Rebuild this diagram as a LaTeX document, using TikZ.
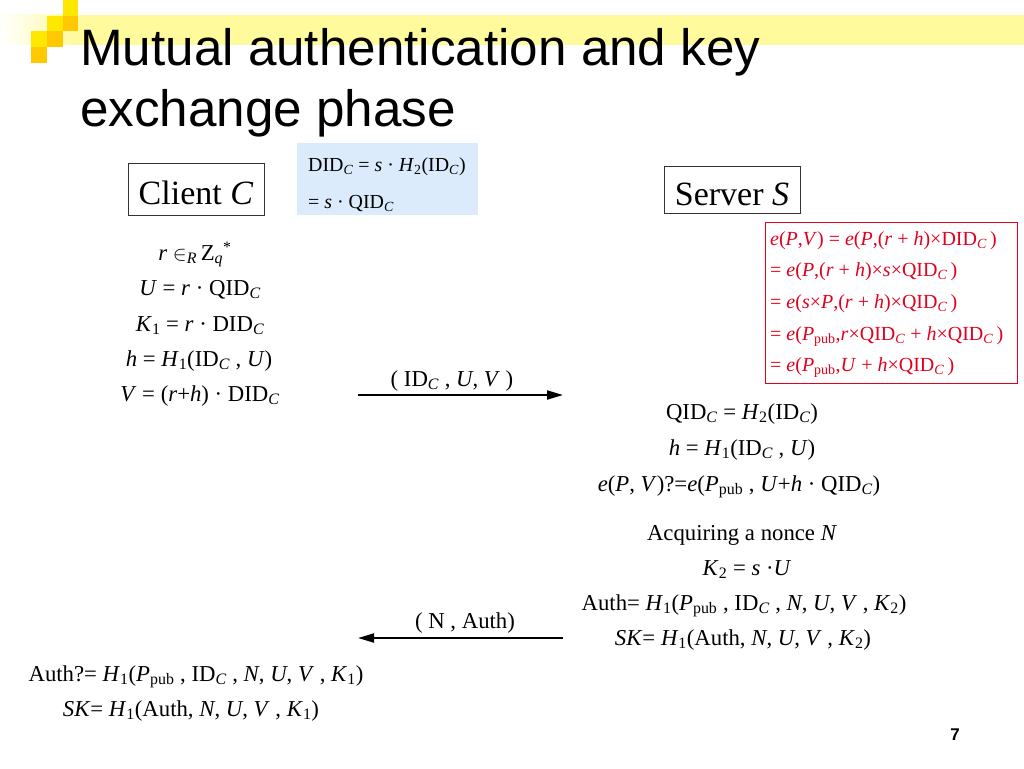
\documentclass[tikz,border=0pt]{standalone}
\usepackage{fontspec}
\setmainfont{Liberation Serif}
\newfontfamily\arialf{Liberation Sans}
\usetikzlibrary{arrows.meta}
\definecolor{bandy}{RGB}{255,250,155}
\definecolor{sqy}{RGB}{255,232,0}
\definecolor{sqo}{RGB}{255,200,0}
\definecolor{bluebox}{RGB}{220,235,252}
\definecolor{redt}{RGB}{225,0,30}
\newcommand\si[1]{\textsubscript{\itshape #1}}
\newcommand\su[1]{\textsubscript{#1}}
\newcommand\fs[1]{\fontsize{#1}{#1}\selectfont}
\tikzset{
  eq/.style={anchor=base, inner sep=0pt, font=\fs{22.75}},
  redeq/.style={anchor=base west, inner sep=0pt, font=\fs{20}, text=redt},
  blueeq/.style={anchor=base west, inner sep=0pt, font=\fs{19.9}},
  party/.style={draw=black!80, line width=0.8pt, inner sep=0pt, anchor=base, font=\fs{34}},
  msg/.style={line width=2pt, -{Triangle[length=16pt,width=9pt]}},
  ttl/.style={anchor=base west, inner sep=0pt, font=\arialf\fs{51.2}},
  sq/.style={inner sep=0pt, minimum size=15.6pt, anchor=north west},
}
\begin{document}
\begin{tikzpicture}[x=1pt,y=-1pt]
\useasboundingbox (0,0) rectangle (1024,768);
% decoration band
\fill[bandy] (78,15) rectangle (1024,45);
\shade[left color=white, right color=bandy] (0,15) rectangle (78,45);
\node[sq, fill=sqy] (s1) at (62.4,0) {};
\node[sq, fill=sqy] (s2) at (46.8,15.6) {};
\node[sq, fill=sqo] (s3) at (62.4,15.6) {};
\node[sq, fill=sqy] (s4) at (31.2,31.2) {};
\node[sq, fill=sqo] (s5) at (46.8,31.2) {};
\node[sq, fill=sqo] (s6) at (31.2,46.8) {};
% title
\node[ttl] (t1) at (80,65) {Mutual authentication and key};
\node[ttl] (t2) at (80,126) {exchange phase};
% parties
\node[party, text height=41pt, text depth=11pt, minimum width=136pt] (client) at (196,204) {Client \textit{C}};
\node[party, text height=39pt, text depth=8pt, minimum width=136pt] (server) at (732,205) {Server \textit{S}};
% blue box
\node[fill=bluebox, inner sep=0pt, minimum width=181pt, minimum height=72pt] (blue) at (387.5,179) {};
\node[blueeq] (b1) at (308,171.5) {DID\si{C} = \textit{s} · \textit{H}\su{2}(ID\si{C})};
\node[blueeq] (b2) at (308,208) {= \textit{s} · QID\si{C}};
% client computations
\node[eq] (c1) at (195,260) {\textit{r} \ensuremath{\in}\si{R}\,Z\si{q}\textsuperscript{*}};
\node[eq] (c2) at (200,295) {\textit{U} = \textit{r} · QID\si{C}};
\node[eq] (c3) at (200,331) {\textit{K}\su{1} = \textit{r} · DID\si{C}};
\node[eq] (c4) at (199,366) {\textit{h} = \textit{H}\su{1}(ID\si{C} , \textit{U})};
\node[eq] (c5) at (200,401) {\textit{V} = (\textit{r}+\textit{h}) · DID\si{C}};
% red box
\node[draw=redt, line width=0.9pt, inner sep=0pt, minimum width=252pt, minimum height=161pt] (redbox) at (891,302.5) {};
\node[redeq] (r1) at (770,245) {\textit{e}(\textit{P},\textit{V}) = \textit{e}(\textit{P},(\textit{r} + \textit{h})×DID\si{C}\,)};
\node[redeq] (r2) at (770,276.7) {= \textit{e}(\textit{P},(\textit{r} + \textit{h})×\textit{s}×QID\si{C}\,)};
\node[redeq] (r3) at (770,308) {= \textit{e}(\textit{s}×\textit{P},(\textit{r} + \textit{h})×QID\si{C}\,)};
\node[redeq] (r4) at (770,340) {= \textit{e}(\textit{P}\su{pub},\textit{r}×QID\si{C} + \textit{h}×QID\si{C}\,)};
\node[redeq] (r5) at (770,371.7) {= \textit{e}(\textit{P}\su{pub},\textit{U} + \textit{h}×QID\si{C}\,)};
% message 1
\coordinate (m1s) at (358,395);
\coordinate (m1e) at (563,395);
\draw[msg] (m1s) -- (m1e);
\node[eq] (l1) at (452,386) {( ID\si{C} , \textit{U}, \textit{V} )};
% server computations
\node[eq] (v1) at (742,419) {QID\si{C} = \textit{H}\su{2}(ID\si{C})};
\node[eq] (v2) at (742,455) {\textit{h} = \textit{H}\su{1}(ID\si{C} , \textit{U})};
\node[eq] (v3) at (739,491) {\textit{e}(\textit{P}, \textit{V})?=\textit{e}(\textit{P}\su{pub} , \textit{U}+\textit{h} · QID\si{C})};
\node[eq] (v4) at (742,540) {Acquiring a nonce \textit{N}};
\node[eq] (v5) at (747,575) {\textit{K}\su{2} = \textit{s} ·\textit{U}};
\node[eq] (v6) at (744,610) {Auth= \textit{H}\su{1}(\textit{P}\su{pub} , ID\si{C} , \textit{N}, \textit{U}, \textit{V} , \textit{K}\su{2})};
\node[eq] (v7) at (743,645) {\textit{SK}= \textit{H}\su{1}(Auth, \textit{N}, \textit{U}, \textit{V} , \textit{K}\su{2})};
% message 2
\coordinate (m2s) at (563,638);
\coordinate (m2e) at (358,638);
\draw[msg] (m2s) -- (m2e);
\node[eq] (l2) at (465,628) {( N , Auth)};
% client final
\node[eq] (c6) at (196,681) {Auth?= \textit{H}\su{1}(\textit{P}\su{pub} , ID\si{C} , \textit{N}, \textit{U}, \textit{V} , \textit{K}\su{1})};
\node[eq] (c7) at (191,716) {\textit{SK}= \textit{H}\su{1}(Auth, \textit{N}, \textit{U}, \textit{V} , \textit{K}\su{1})};
% page number
\node[inner sep=0pt, font=\arialf\bfseries\fs{17}] (pg) at (955,735) {7};
\end{tikzpicture}
\end{document}
